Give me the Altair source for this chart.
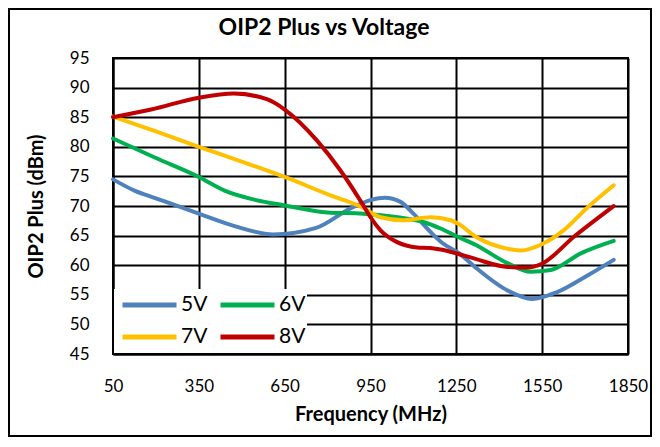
import altair as alt
import pandas as pd

series_names = ["5V", "6V", "7V", "8V"]
series_colors = ["#4F81BD", "#00B050", "#FFC000", "#C00000"]

x_ticks = [50, 350, 650, 950, 1250, 1550, 1850]
y_ticks = [45, 50, 55, 60, 65, 70, 75, 80, 85, 90, 95]

freq_5v = [50, 125, 200, 350, 475, 610, 760, 880, 950, 1000, 1055, 1100, 1160, 1200, 1260, 1315, 1430, 1515, 1600, 1710, 1800]
oip2_5v = [74.5, 72.6, 71.3, 68.7, 66.6, 65.2, 66.3, 69.6, 71.0, 71.4, 70.7, 68.7, 65.6, 63.8, 62.0, 59.7, 55.7, 54.3, 55.4, 58.3, 60.9]

freq_6v = [50, 200, 350, 440, 550, 650, 800, 925, 1045, 1135, 1195, 1255, 1315, 1430, 1510, 1580, 1685, 1800]
oip2_6v = [81.4, 78.1, 74.9, 72.6, 71.0, 70.1, 68.9, 68.7, 68.1, 67.3, 66.2, 64.8, 63.5, 60.3, 58.9, 59.2, 62.0, 64.1]

freq_7v = [50, 200, 350, 500, 650, 810, 920, 985, 1065, 1160, 1230, 1260, 1315, 1395, 1477, 1547, 1628, 1703, 1800]
oip2_7v = [85.1, 82.6, 80.0, 77.5, 74.9, 71.8, 69.8, 68.1, 67.6, 68.1, 67.6, 66.9, 64.9, 63.2, 62.5, 63.5, 66.0, 69.5, 73.5]

freq_8v = [50, 183, 350, 473, 590, 650, 764, 845, 921, 950, 985, 1043, 1113, 1159, 1200, 1257, 1314, 1430, 1500, 1547, 1663, 1800]
oip2_8v = [85.0, 86.3, 88.3, 89.0, 88.0, 86.3, 81.0, 76.0, 70.4, 68.1, 65.9, 63.9, 63.0, 62.9, 62.6, 61.9, 61.1, 59.7, 59.6, 60.2, 64.9, 70.0]

chart_title = "OIP2 Plus vs Voltage"

rows = []
for name, fs, vs in [("5V", freq_5v, oip2_5v), ("6V", freq_6v, oip2_6v),
                     ("7V", freq_7v, oip2_7v), ("8V", freq_8v, oip2_8v)]:
    for f, v in zip(fs, vs):
        rows.append({"Frequency": f, "OIP2": v, "Series": name})
df = pd.DataFrame(rows)

FONT = "Lato"

lines = alt.Chart(df).mark_line(interpolate="monotone", strokeWidth=4, strokeCap="round").encode(
    x=alt.X("Frequency:Q",
            scale=alt.Scale(domain=[50, 1850], nice=False, zero=False),
            axis=alt.Axis(values=x_ticks, title="Frequency (MHz)", format="d", labelFlush=False)),
    y=alt.Y("OIP2:Q",
            scale=alt.Scale(domain=[45, 95], nice=False, zero=False),
            axis=alt.Axis(values=y_ticks, title="OIP2 Plus (dBm)")),
    color=alt.Color("Series:N",
                    scale=alt.Scale(domain=series_names, range=series_colors),
                    legend=alt.Legend(title=None, orient="none", legendX=1, legendY=231,
                                      direction="horizontal", columns=2,
                                      fillColor="white", padding=1,
                                      symbolType="stroke", symbolSize=2916,
                                      symbolStrokeWidth=5, symbolOffset=5,
                                      clipHeight=30,
                                      labelFont=FONT, labelFontSize=21, labelColor="black",
                                      columnPadding=5, rowPadding=2, labelOffset=2,
                                      labelLimit=0)),
)

frame = alt.Chart(pd.DataFrame({"k": [0]})).mark_rect(
    fillOpacity=0, stroke="black", strokeWidth=2
).encode(
    x=alt.value(-104), x2=alt.value(538), y=alt.value(-49), y2=alt.value(378)
)

title = alt.Chart(pd.DataFrame({"t": [chart_title]})).mark_text(
    font=FONT, fontSize=23, fontWeight="bold", color="black", baseline="middle", align="center"
).encode(
    text="t:N", x=alt.value(211), y=alt.value(-30)
)

chart = alt.layer(lines, frame, title).properties(
    width=515, height=296, padding=0, background="white",
).configure_axis(
    grid=True, gridColor="black", gridWidth=2, gridOpacity=1,
    domainColor="black", domainWidth=2, ticks=False,
    labelFont=FONT, labelFontSize=17, labelColor="black",
    titleFont=FONT, titleFontSize=20, titleFontWeight="bold", titleColor="black",
).configure_axisX(labelPadding=24, titlePadding=10).configure_axisY(
    labelPadding=24, titlePadding=23
).configure_view(
    stroke="black", strokeWidth=2
)

chart.save("out.html", embed_options={"renderer": "svg", "actions": False})
